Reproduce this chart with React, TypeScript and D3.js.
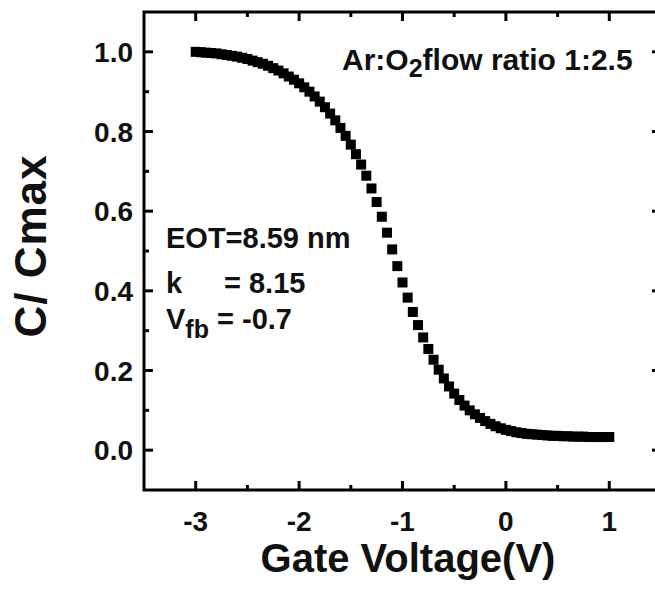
import React from "react";
import * as d3 from "d3";

// Normalized C-V sweep: gate voltage (V) and C/Cmax
const gateVoltage = [
  -3.0, -2.95, -2.9, -2.85, -2.8, -2.75, -2.7, -2.65, -2.6, -2.55,
  -2.5, -2.45, -2.4, -2.35, -2.3, -2.25, -2.2, -2.15, -2.1, -2.05,
  -2.0, -1.95, -1.9, -1.85, -1.8, -1.75, -1.7, -1.65, -1.6, -1.55,
  -1.5, -1.45, -1.4, -1.35, -1.3, -1.25, -1.2, -1.15, -1.1, -1.05,
  -1.0, -0.95, -0.9, -0.85, -0.8, -0.75, -0.7, -0.65, -0.6, -0.55,
  -0.5, -0.45, -0.4, -0.35, -0.3, -0.25, -0.2, -0.15, -0.1, -0.05,
  0.0, 0.05, 0.1, 0.15, 0.2, 0.25, 0.3, 0.35, 0.4, 0.45,
  0.5, 0.55, 0.6, 0.65, 0.7, 0.75, 0.8, 0.85, 0.9, 0.95, 1.0,
];

const capRatio = [
  1.0, 0.999, 0.998, 0.997, 0.996, 0.994, 0.992, 0.99, 0.988, 0.985,
  0.982, 0.978, 0.974, 0.97, 0.965, 0.959, 0.953, 0.946, 0.938, 0.93,
  0.921, 0.911, 0.9, 0.888, 0.875, 0.861, 0.845, 0.828, 0.809, 0.789,
  0.767, 0.743, 0.717, 0.689, 0.657, 0.623, 0.586, 0.546, 0.504, 0.462,
  0.421, 0.383, 0.347, 0.314, 0.283, 0.254, 0.227, 0.202, 0.18, 0.16,
  0.142, 0.126, 0.112, 0.1, 0.09, 0.081, 0.073, 0.066, 0.06, 0.055,
  0.051, 0.048, 0.045, 0.043, 0.041, 0.04, 0.039, 0.038, 0.037, 0.036,
  0.036, 0.035, 0.035, 0.034, 0.034, 0.034, 0.033, 0.033, 0.033, 0.033, 0.033,
];

const xMajorTicks = [-3, -2, -1, 0, 1];
const xMinorTicks = [-2.5, -1.5, -0.5, 0.5];
const yMajorTicks = [0, 0.2, 0.4, 0.6, 0.8, 1.0];
const yMinorTicks = [0.1, 0.3, 0.5, 0.7, 0.9];

const W = 655;
const H = 592;
const FONT = "'Liberation Sans', Arial, sans-serif";

export default function App() {
  const left = 144;
  const right = 661;
  const top = 12;
  const bottom = 490;

  const x = d3.scaleLinear().domain([-3.5, 1.5]).range([left, right]);
  const y = d3.scaleLinear().domain([-0.1, 1.1]).range([bottom, top]);

  const marker = 10;
  const majorLen = 9;
  const minorLen = 5;
  const sw = 3;

  const points = gateVoltage.map((v, i) => ({ v, c: capRatio[i] }));

  return (
    <svg
      width={W}
      height={H}
      style={{ position: "absolute", left: 0, top: 0, background: "#fff" }}
      fontFamily={FONT}
      fontWeight="bold"
    >
      <rect x={0} y={0} width={W} height={H} fill="#fff" />

      {/* frame */}
      <rect
        x={left}
        y={top}
        width={right - left}
        height={bottom - top}
        fill="none"
        stroke="#000"
        strokeWidth={sw}
      />

      {/* x ticks, bottom and top, pointing inward */}
      {xMajorTicks.map((t) => (
        <g key={"xM" + t}>
          <line x1={x(t)} x2={x(t)} y1={bottom} y2={bottom - majorLen} stroke="#000" strokeWidth={sw} />
          <line x1={x(t)} x2={x(t)} y1={top} y2={top + majorLen} stroke="#000" strokeWidth={sw} />
          <text x={x(t)} y={531} textAnchor="middle" fontSize={28} fill="#111">
            {String(t)}
          </text>
        </g>
      ))}
      {xMinorTicks.map((t) => (
        <g key={"xm" + t}>
          <line x1={x(t)} x2={x(t)} y1={bottom} y2={bottom - minorLen} stroke="#000" strokeWidth={sw} />
          <line x1={x(t)} x2={x(t)} y1={top} y2={top + minorLen} stroke="#000" strokeWidth={sw} />
        </g>
      ))}

      {/* y ticks, left and right, pointing inward */}
      {yMajorTicks.map((t) => (
        <g key={"yM" + t}>
          <line x1={left} x2={left + majorLen} y1={y(t)} y2={y(t)} stroke="#000" strokeWidth={sw} />
          <line x1={right} x2={right - majorLen} y1={y(t)} y2={y(t)} stroke="#000" strokeWidth={sw} />
          <text x={133} y={y(t) + 10} textAnchor="end" fontSize={28} fill="#111">
            {t.toFixed(1)}
          </text>
        </g>
      ))}
      {yMinorTicks.map((t) => (
        <g key={"ym" + t}>
          <line x1={left} x2={left + minorLen} y1={y(t)} y2={y(t)} stroke="#000" strokeWidth={sw} />
          <line x1={right} x2={right - minorLen} y1={y(t)} y2={y(t)} stroke="#000" strokeWidth={sw} />
        </g>
      ))}

      {/* data markers */}
      {points.map((p, i) => (
        <rect
          key={i}
          x={x(p.v) - marker / 2}
          y={y(p.c) - marker / 2}
          width={marker}
          height={marker}
          fill="#000"
        />
      ))}

      {/* axis titles */}
      <text x={408} y={572} textAnchor="middle" fontSize={40} fill="#111">
        Gate Voltage(V)
      </text>
      <text
        transform={`translate(46, 246) rotate(-90)`}
        textAnchor="middle"
        fontSize={44}
        letterSpacing={1}
        fill="#111"
      >
        C/ Cmax
      </text>

      {/* annotations */}
      <text x={342} y={70} fontSize={30} fill="#111">
        <tspan>Ar:O</tspan>
        <tspan fontSize={25} dy={7}>2</tspan>
        <tspan dy={-7}>flow ratio 1:2.5</tspan>
      </text>
      <text x={166} y={248} fontSize={29} fill="#111">
        EOT=8.59 nm
      </text>
      <text x={166} y={293} fontSize={29} fill="#111">
        <tspan>k</tspan>
        <tspan x={224}>= 8.15</tspan>
      </text>
      <text x={166} y={329} fontSize={29} fill="#111">
        <tspan>V</tspan>
        <tspan fontSize={25} dy={9}>fb</tspan>
        <tspan dy={-9}> = -0.7</tspan>
      </text>
    </svg>
  );
}
